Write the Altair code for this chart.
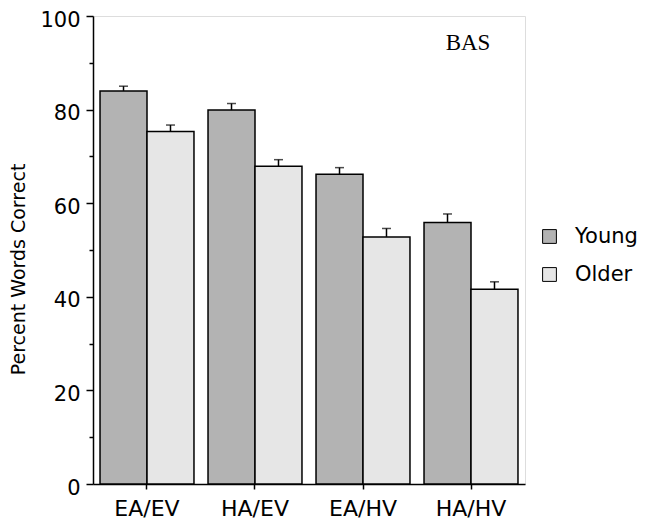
import altair as alt
import pandas as pd

conditions = ["EA/EV", "HA/EV", "EA/HV", "HA/HV"]
groups = ["Young", "Older"]
young = [84.0, 79.9, 66.2, 55.9]
young_err = [1.0, 1.4, 1.4, 1.8]
older = [75.3, 67.9, 52.8, 41.6]
older_err = [1.4, 1.4, 1.8, 1.6]

rows = []
for i, c in enumerate(conditions):
    rows.append({"cond": c, "group": "Young", "val": young[i], "top": young[i] + young_err[i]})
    rows.append({"cond": c, "group": "Older", "val": older[i], "top": older[i] + older_err[i]})
df = pd.DataFrame(rows)

FONT = "DejaVu Sans"

x = alt.X("cond:N", sort=conditions, title=None,
          scale=alt.Scale(paddingInner=0.13, paddingOuter=0.065),
          axis=alt.Axis(labelAngle=0, labelFont=FONT, labelFontSize=22, labelColor="black",
                        labelPadding=9, tickSize=5, tickColor="black", domainColor="black",
                        domainWidth=1.5, tickWidth=1.5))
xo = alt.XOffset("group:N", sort=groups, scale=alt.Scale(paddingInner=0, paddingOuter=0))
y = alt.Y("val:Q", title="Percent Words Correct",
          scale=alt.Scale(domain=[0, 100], nice=False),
          axis=alt.Axis(values=list(range(0, 101, 10)),
                        labelExpr="datum.value % 20 === 0 ? datum.label : ''",
                        tickSize={"condition": {"test": "datum.value % 20 === 0", "value": 7}, "value": 4},
                        labelFont=FONT, labelFontSize=21, labelColor="black", labelPadding=6,
                        labelOffset=4,
                        grid=False, tickColor="black", domainColor="black", domainWidth=1.5,
                        tickWidth=1.5, titleFont=FONT, titleFontSize=19, titleFontWeight="normal",
                        titleColor="black", titleAngle=-90, titleX=-75, titleY=253,
                        titleAlign="center", titleBaseline="middle"))

color = alt.Color("group:N", sort=groups, title=None,
                  scale=alt.Scale(domain=groups, range=["#b3b3b3", "#e6e6e6"]),
                  legend=alt.Legend(orient="none", legendX=446, legendY=210, symbolType="square",
                                    symbolSize=190, symbolStrokeColor="black", symbolStrokeWidth=1,
                                    labelFont=FONT, labelFontSize=21, labelColor="black",
                                    rowPadding=16, labelOffset=15, padding=0))

bars = alt.Chart(df).mark_bar(stroke="black", strokeWidth=1.5).encode(x=x, xOffset=xo, y=y, color=color)
rules = alt.Chart(df).mark_rule(color="black", strokeWidth=1.5).encode(
    x=x, xOffset=xo, y="val:Q", y2="top:Q")
caps = alt.Chart(df).mark_tick(color="black", thickness=1.5, size=9).encode(
    x=x, xOffset=xo, y="top:Q")
label = alt.Chart(pd.DataFrame({"t": ["BAS"]})).mark_text(
    font="Liberation Serif", fontSize=23, color="black", align="center", baseline="alphabetic"
).encode(x=alt.value(375), y=alt.value(34), text="t:N")

chart = alt.layer(bars, rules, caps, label).properties(
    width=432, height=468,
    autosize=alt.AutoSizeParams(type="none"),
    padding={"left": 85, "top": 8, "right": 115, "bottom": 36},
).configure_view(stroke="black", strokeWidth=1.5).configure(background="white")

chart.save("out.html", embed_options={"renderer": "svg", "actions": False})
